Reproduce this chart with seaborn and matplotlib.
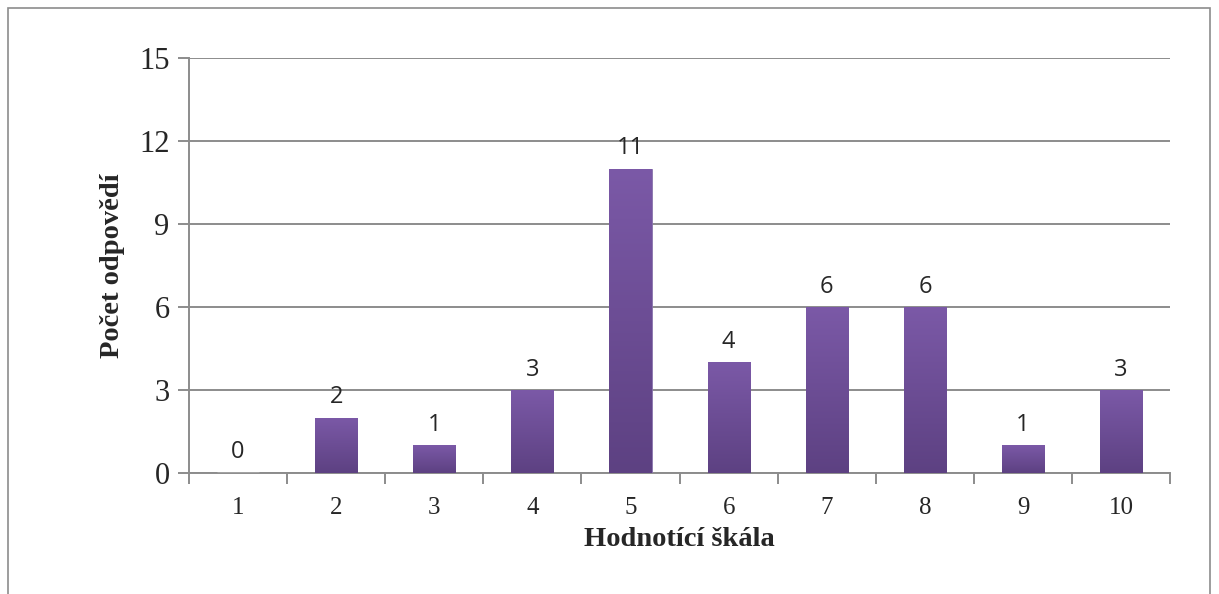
import seaborn as sns
import matplotlib.pyplot as plt
import matplotlib.patches as mpatches
import numpy as np
import pandas as pd

categories = ['1', '2', '3', '4', '5', '6', '7', '8', '9', '10']
counts = [0, 2, 1, 3, 11, 4, 6, 6, 1, 3]
yticks = [0, 3, 6, 9, 12, 15]

df = pd.DataFrame({'skala': categories, 'pocet': counts})

sns.set_style('white')
plt.rcParams['font.family'] = ['Liberation Serif', 'DejaVu Serif']

fig = plt.figure(figsize=(12.19, 5.94), dpi=100)
ax = fig.add_axes([0.155, 0.204, 0.805, 0.698])

sns.barplot(data=df, x='skala', y='pocet', color='#6a4c93', width=0.43,
            saturation=1, ax=ax, zorder=3)

# gradient fill, lighter at top like the original
grad = np.linspace(0, 1, 256).reshape(-1, 1)
cmap = sns.blend_palette(['#5d4182', '#7b59a7'], as_cmap=True)
for bar in ax.patches:
    x0, y0 = bar.get_x(), bar.get_y()
    w, h = bar.get_width(), bar.get_height()
    if h <= 0:
        continue
    im = ax.imshow(grad, extent=[x0, x0 + w, y0, y0 + h], origin='lower',
                   cmap=cmap, aspect='auto', zorder=4)
    im.set_clip_path(bar)
    bar.set_edgecolor('#8a74ad')
    bar.set_linewidth(0.6)

ax.set_xlim(-0.5, len(categories) - 0.5)
ax.set_ylim(0, 15)
ax.set_yticks(yticks)
ax.yaxis.grid(True, color='#8c8c8c', linewidth=1.4, zorder=0)
ax.set_axisbelow(True)

for s in ['top', 'right']:
    ax.spines[s].set_visible(False)
ax.spines['left'].set_color('#8c8c8c')
ax.spines['bottom'].set_color('#8c8c8c')
ax.spines['left'].set_linewidth(1.4)
ax.spines['bottom'].set_linewidth(1.4)

ax.tick_params(axis='y', left=True, length=8, width=1.4, color='#8c8c8c',
               labelsize=22, pad=6)
ax.tick_params(axis='x', bottom=False, labelsize=18, pad=14)
# x ticks at category boundaries
ax.set_xticks(np.arange(-0.5, len(categories), 1.0), minor=True)
ax.tick_params(axis='x', which='minor', bottom=True, length=8, width=1.4,
               color='#8c8c8c')

ax.set_xlabel('Hodnotící škála', fontsize=20.5, fontweight='bold', labelpad=6)
ax.set_ylabel('Počet odpovědí', fontsize=20.5, fontweight='bold', labelpad=10)

ax.bar_label(ax.containers[0], labels=[str(c) for c in counts], padding=6,
             fontsize=17, family=['Open Sans', 'DejaVu Sans'], zorder=5)

# grey frame around the chart
fig.patches.append(mpatches.Rectangle((8 / 1219, -0.05), 1202 / 1219, 1.05 - 8 / 594,
                                      transform=fig.transFigure, fill=False,
                                      edgecolor='#8c8c8c', linewidth=1.2))

fig.savefig('out.png', dpi=100)
